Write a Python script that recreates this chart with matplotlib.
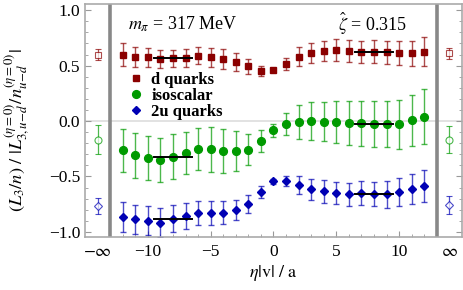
import matplotlib
matplotlib.use('Agg')
import matplotlib.pyplot as plt
import numpy as np

plt.rcParams['font.family'] = ['Liberation Serif', 'DejaVu Serif']
plt.rcParams['mathtext.fontset'] = 'stix'

# lattice separations
eta = np.arange(-12, 13)

d_val = [0.60, 0.58, 0.575, 0.56, 0.565, 0.57, 0.59, 0.575, 0.56, 0.53, 0.494, 0.455, 0.46,
         0.515, 0.58, 0.615, 0.635, 0.64, 0.635, 0.62, 0.625, 0.62, 0.615, 0.61, 0.625]
d_err = [0.10, 0.09, 0.085, 0.08, 0.08, 0.08, 0.08, 0.085, 0.09, 0.08, 0.07, 0.045, 0.015,
         0.055, 0.085, 0.09, 0.09, 0.1, 0.1, 0.1, 0.105, 0.105, 0.11, 0.115, 0.13]

iso_val = [-0.265, -0.31, -0.335, -0.35, -0.32, -0.285, -0.25, -0.255, -0.27, -0.27, -0.26, -0.18, -0.085,
           -0.024, -0.006, 0.0, -0.006, -0.01, -0.015, -0.022, -0.028, -0.028, -0.03, 0.005, 0.04]
iso_err = [0.19, 0.2, 0.2, 0.2, 0.2, 0.19, 0.19, 0.2, 0.2, 0.18, 0.14, 0.1, 0.055,
           0.1, 0.155, 0.17, 0.175, 0.19, 0.2, 0.2, 0.21, 0.21, 0.22, 0.23, 0.25]

u_val = [-0.865, -0.885, -0.9, -0.915, -0.88, -0.855, -0.83, -0.83, -0.825, -0.80, -0.75, -0.64, -0.545,
         -0.54, -0.58, -0.615, -0.635, -0.65, -0.66, -0.65, -0.66, -0.66, -0.64, -0.615, -0.585]
u_err = [0.135, 0.13, 0.13, 0.13, 0.12, 0.12, 0.11, 0.105, 0.1, 0.09, 0.08, 0.055, 0.025,
         0.045, 0.08, 0.095, 0.1, 0.1, 0.105, 0.11, 0.11, 0.12, 0.125, 0.135, 0.145]

# eta -> +-infinity values (left, right)
inf_pos = [-14, 14]
d_inf = [0.60, 0.61]
d_inf_err = [0.05, 0.05]
iso_inf = [-0.167, -0.167]
iso_inf_err = [0.13, 0.125]
u_inf = [-0.765, -0.76]
u_inf_err = [0.075, 0.08]

# plateau fits
fit_left = [-9.5, -6.5]
fit_right = [6.5, 9.5]
d_fit = [0.565, 0.625]
iso_fit = [-0.32, -0.028]
u_fit = [-0.88, -0.658]

red = '#8b0000'
green = '#009a00'
blue = '#0000b4'

fig = plt.figure(figsize=(4.63, 2.9), dpi=100)
ax = fig.add_axes([0.1836, 0.183, 0.814, 0.803])

ax.axhline(0, color='#dddddd', lw=1.2, zorder=0)
for xv in (-13, 13):
    ax.axvline(xv, color='#888888', lw=2.6, zorder=1)

series = [
    (d_val, d_err, d_inf, d_inf_err, d_fit, red, 's', 4.6, 'd quarks'),
    (iso_val, iso_err, iso_inf, iso_inf_err, iso_fit, green, 'o', 5.6, 'isoscalar'),
    (u_val, u_err, u_inf, u_inf_err, u_fit, blue, 'D', 4.3, '2u quarks'),
]

handles = []
for val, err, ival, ierr, fit, col, mk, ms, lab in series:
    ax.errorbar(eta, val, yerr=err, fmt='none', ecolor=col, alpha=0.7,
                elinewidth=1.0, capsize=2.5, capthick=1.0, zorder=2)
    h, = ax.plot(eta, val, ls='none', marker=mk, ms=ms, color=col, zorder=3, label=lab)
    handles.append(h)
    ax.errorbar(inf_pos, ival, yerr=ierr, fmt=mk, mfc='white', mec=col, ms=ms * 0.9,
                ecolor=col, alpha=0.7, elinewidth=0.9, capsize=2.0, mew=0.8, zorder=2)
    ax.plot(fit_left, [fit[0]] * 2, color='black', lw=1.4, zorder=4)
    ax.plot(fit_right, [fit[1]] * 2, color='black', lw=1.4, zorder=4)

ax.set_xlim(-15, 15)
ax.set_ylim(-1.045, 1.055)

ax.set_xticks([-14, -10, -5, 0, 5, 10, 14])
ax.set_xticklabels([r'$-\infty$', '\u221210', '\u22125', '0', '5', '10', r'$\infty$'])
ax.set_xticks([v for v in range(-12, 13) if v % 5 != 0], minor=True)
ax.set_yticks([-1.0, -0.5, 0.0, 0.5, 1.0])
ax.set_yticklabels(['\u22121.0', '\u22120.5', '0.0', '0.5', '1.0'])
ax.set_yticks(np.arange(-1.0, 1.01, 0.1), minor=True)
ax.tick_params(axis='both', which='both', direction='in', color='#999999', labelsize=12.5)
ax.tick_params(axis='y', which='both', right=True)
ax.tick_params(axis='both', which='major', length=4)
ax.tick_params(axis='both', which='minor', length=2)
ax.tick_params(axis='x', pad=5)
for i in (0, -1):
    ax.xaxis.get_major_ticks()[i].tick1line.set_visible(False)

for sp in ax.spines.values():
    sp.set_color('#aaaaaa')
    sp.set_linewidth(1.2)

ax.set_xlabel(r'$\eta|\mathrm{v}|\ /\ \mathrm{a}$', fontsize=13, labelpad=2)
ax.set_ylabel(r'$(L_3/n)\ /\ |L_{3,u\!-\!d}^{(\eta=0)}/n_{u\!-\!d}^{(\eta=0)}|$', fontsize=13.3)
ax.yaxis.set_label_coords(-0.14, 0.46)

ax.text(0.114, 0.915, r'$m_\pi$ = 317 MeV', transform=ax.transAxes, fontsize=13, va='center')
ax.text(0.764, 0.915, r'$\hat{\zeta}$ = 0.315', transform=ax.transAxes, fontsize=13, va='center', ha='center')

ax.legend(handles=handles, loc='upper left', bbox_to_anchor=(0.118, 0.71), frameon=False,
          borderpad=0, borderaxespad=0, handlelength=0.8, handletextpad=0.5, labelspacing=0.0,
          prop={'weight': 'bold', 'size': 12})

fig.savefig('out.png', dpi=100)
